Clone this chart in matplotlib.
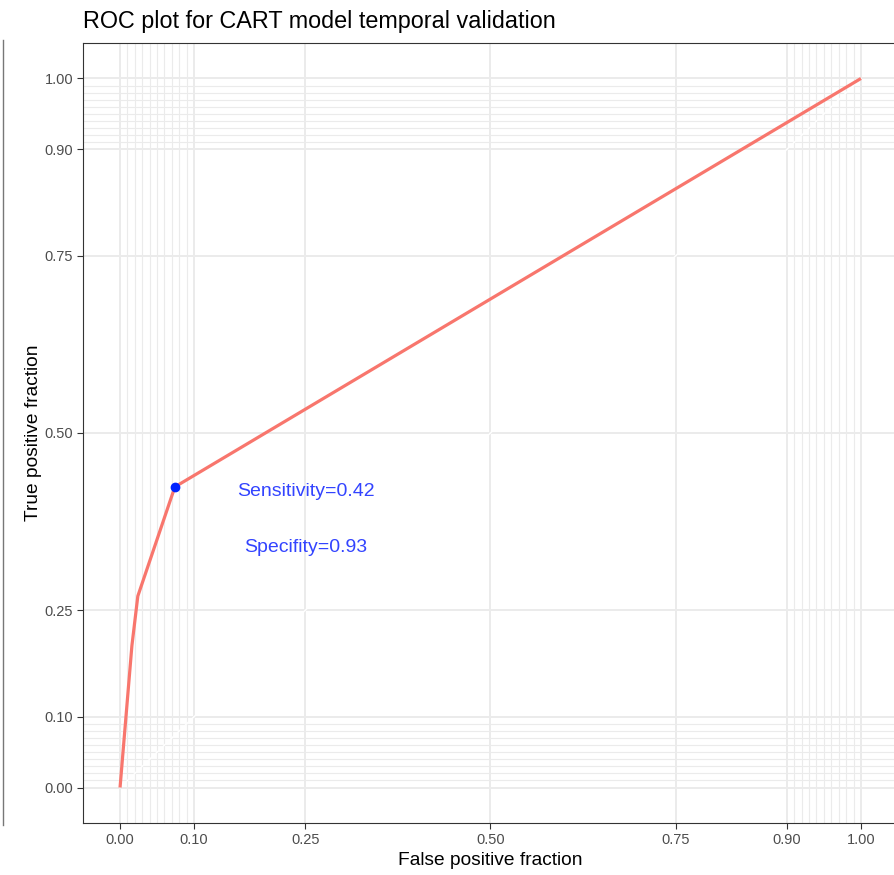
import matplotlib
matplotlib.use("Agg")
import matplotlib.pyplot as plt
from matplotlib.lines import Line2D
import numpy as np

plt.rcParams['font.family'] = ['Liberation Sans', 'DejaVu Sans']

# ROC curve data
fpf = [0.0, 0.016, 0.024, 0.074, 1.0]
tpf = [0.0, 0.20, 0.27, 0.424, 1.0]
cut_fpf = [0.074]
cut_tpf = [0.424]
annot_labels = ["Sensitivity=0.42", "Specifity=0.93"]
annot_x = [0.251, 0.251]
annot_y = [0.418, 0.338]

major_breaks = [0, 0.1, 0.25, 0.5, 0.75, 0.9, 1.0]
major_labels = ["0.00", "0.10", "0.25", "0.50", "0.75", "0.90", "1.00"]
minor_breaks = [round(v, 2) for v in list(np.arange(0.01, 0.1, 0.01)) + list(np.arange(0.91, 1.0, 0.01))]

W, H = 895, 875
fig = plt.figure(figsize=(W / 100, H / 100), dpi=100)
left, right, top, bottom = 83, 898, 43, 823
ax = fig.add_axes([left / W, (H - bottom) / H, (right - left) / W, (bottom - top) / H])

ax.set_xlim(-0.05, 1.05)
ax.set_ylim(-0.05, 1.05)

grid_col = "#EBEBEB"
for v in minor_breaks:
    ax.axvline(v, color=grid_col, lw=0.8, zorder=0)
    ax.axhline(v, color=grid_col, lw=0.8, zorder=0)
for v in major_breaks:
    ax.axvline(v, color=grid_col, lw=1.4, zorder=0)
    ax.axhline(v, color=grid_col, lw=1.4, zorder=0)

# diagonal guide
ax.plot([0, 1], [0, 1], color="white", lw=1.0, zorder=1)

ax.plot(fpf, tpf, color="#F8766D", lw=2.3, zorder=3, solid_capstyle="butt")
ax.plot(cut_fpf, cut_tpf, 'o', color="#0022FF", ms=6, zorder=4)

for lab, x, y in zip(annot_labels, annot_x, annot_y):
    ax.text(x, y, lab, color="#3344FF", fontsize=14, ha="center", va="center", zorder=5)

ax.set_xticks(major_breaks)
ax.set_xticklabels(major_labels)
ax.set_yticks(major_breaks)
ax.set_yticklabels(major_labels)
ax.tick_params(axis="both", length=4, width=0.8, color="#333333", labelcolor="#4D4D4D", labelsize=10.5, pad=3)

for s in ax.spines.values():
    s.set_color("#333333")
    s.set_linewidth(0.8)

ax.set_xlabel("False positive fraction", fontsize=13.8, color="black", labelpad=4)
ax.set_ylabel("True positive fraction", fontsize=13.8, color="black", labelpad=2)
ax.set_title("ROC plot for CART model temporal validation", fontsize=16.8, loc="left", pad=10.5)

# left-edge frame artifact
fig.add_artist(Line2D([3 / W, 3 / W], [(H - 40) / H, (H - 825) / H], color="#777777", lw=1.0))

fig.savefig("out.png", dpi=100)
